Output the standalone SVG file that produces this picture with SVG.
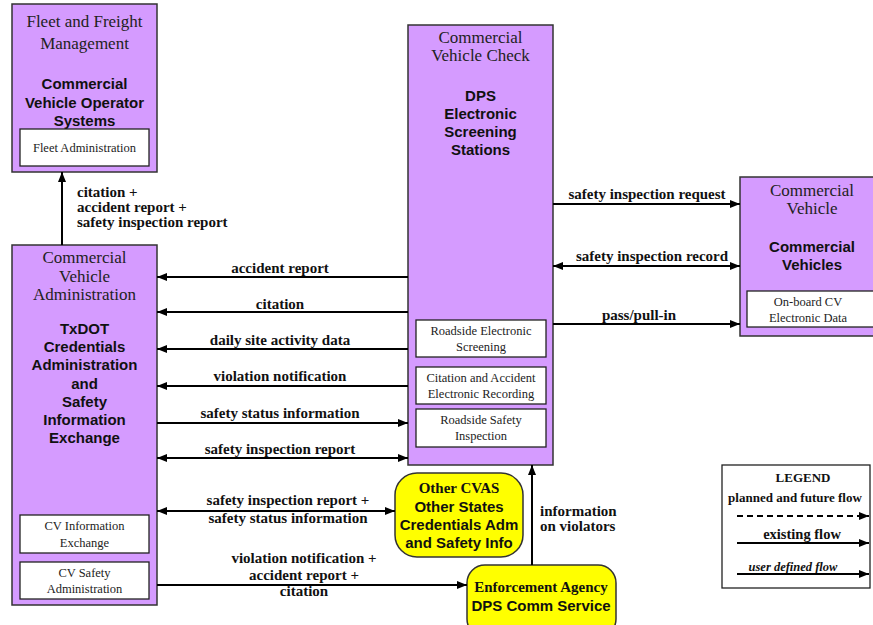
<svg xmlns="http://www.w3.org/2000/svg" width="873" height="625" viewBox="0 0 873 625">
<style>
.box{fill:#d59bff;stroke:#333;stroke-width:1.5}
.sub{fill:#fff;stroke:#222;stroke-width:1.3}
.yel{fill:#ffff00;stroke:#333;stroke-width:1.5}
.ttl{font-family:"Liberation Serif",serif;font-size:17px;fill:#222;text-anchor:middle}
.nm{font-family:"Liberation Sans",Arial,sans-serif;font-size:15px;font-weight:bold;fill:#111;text-anchor:middle}
.st{font-family:"Liberation Serif",serif;font-size:12.5px;fill:#222;text-anchor:middle}
.lb{font-family:"Liberation Serif",serif;font-size:15px;font-weight:bold;fill:#111;text-anchor:middle}
.lbl{font-family:"Liberation Serif",serif;font-size:15px;font-weight:bold;fill:#111}
.fl{fill:none;stroke:#000;stroke-width:2}
.lg{font-family:"Liberation Serif",serif;font-size:13px;font-weight:bold;fill:#111;text-anchor:middle}
</style>
<defs>
<marker id="ah" viewBox="0 0 10 8" refX="10" refY="4" markerWidth="10" markerHeight="8" markerUnits="userSpaceOnUse" orient="auto-start-reverse">
<path d="M0,0 L10,4 L0,8 z" fill="#000"/>
</marker>
</defs>
<rect width="873" height="625" fill="#fff"/>

<g id="fleet">
<rect class="box" x="12" y="4" width="145" height="168"/>
<text class="ttl" x="84.5" y="27">Fleet and Freight</text>
<text class="ttl" x="84.5" y="49">Management</text>
<text class="nm" x="84.5" y="89">Commercial</text>
<text class="nm" x="84.5" y="108">Vehicle Operator</text>
<text class="nm" x="84.5" y="126">Systems</text>
<rect class="sub" x="20" y="129" width="129" height="37"/>
<text class="st" x="84.5" y="152">Fleet Administration</text>
</g>

<g id="cva">
<rect class="box" x="12" y="245" width="145" height="360"/>
<text class="ttl" x="84.5" y="263">Commercial</text>
<text class="ttl" x="84.5" y="282">Vehicle</text>
<text class="ttl" x="84.5" y="300">Administration</text>
<text class="nm" x="84.5" y="334">TxDOT</text>
<text class="nm" x="84.5" y="352">Credentials</text>
<text class="nm" x="84.5" y="370">Administration</text>
<text class="nm" x="84.5" y="389">and</text>
<text class="nm" x="84.5" y="407">Safety</text>
<text class="nm" x="84.5" y="425">Information</text>
<text class="nm" x="84.5" y="443">Exchange</text>
<rect class="sub" x="20" y="515" width="129" height="38"/>
<text class="st" x="84.5" y="530">CV Information</text>
<text class="st" x="84.5" y="547">Exchange</text>
<rect class="sub" x="20" y="562" width="129" height="37"/>
<text class="st" x="84.5" y="577">CV Safety</text>
<text class="st" x="84.5" y="593">Administration</text>
</g>

<g id="cvc">
<rect class="box" x="408" y="25" width="145" height="440"/>
<text class="ttl" x="480.5" y="43">Commercial</text>
<text class="ttl" x="480.5" y="61">Vehicle Check</text>
<text class="nm" x="480.5" y="101">DPS</text>
<text class="nm" x="480.5" y="119">Electronic</text>
<text class="nm" x="480.5" y="137">Screening</text>
<text class="nm" x="480.5" y="155">Stations</text>
<rect class="sub" x="416" y="320" width="130" height="37"/>
<text class="st" x="481" y="335">Roadside Electronic</text>
<text class="st" x="481" y="351">Screening</text>
<rect class="sub" x="416" y="367" width="130" height="37"/>
<text class="st" x="481" y="382">Citation and Accident</text>
<text class="st" x="481" y="398">Electronic Recording</text>
<rect class="sub" x="416" y="409" width="130" height="38"/>
<text class="st" x="481" y="424">Roadside Safety</text>
<text class="st" x="481" y="440">Inspection</text>
</g>

<g id="cv">
<rect class="box" x="740" y="177" width="145" height="159"/>
<text class="ttl" x="812" y="196">Commercial</text>
<text class="ttl" x="812" y="214">Vehicle</text>
<text class="nm" x="812" y="252">Commercial</text>
<text class="nm" x="812" y="270">Vehicles</text>
<rect class="sub" x="747" y="291" width="131" height="36"/>
<text class="st" x="808" y="306">On-board CV</text>
<text class="st" x="808" y="322">Electronic Data</text>
</g>

<g id="othercvas">
<rect class="yel" x="395" y="473" width="128" height="84" rx="22" ry="22"/>
<text class="lb" x="459" y="493">Other CVAS</text>
<text class="nm" x="459" y="512">Other States</text>
<text class="nm" x="459" y="530">Credentials Adm</text>
<text class="nm" x="459" y="548">and Safety Info</text>
</g>

<g id="enforcement">
<rect class="yel" x="467" y="565" width="149" height="72" rx="18" ry="18"/>
<text class="lb" x="541" y="592">Enforcement Agency</text>
<text class="nm" x="541" y="611">DPS Comm Service</text>
</g>

<g id="connectors">
<line class="fl" x1="62" y1="245" x2="62" y2="172" marker-end="url(#ah)"/>
<line class="fl" x1="408" y1="277" x2="157" y2="277" marker-end="url(#ah)"/>
<line class="fl" x1="408" y1="312" x2="157" y2="312" marker-end="url(#ah)"/>
<line class="fl" x1="408" y1="349" x2="157" y2="349" marker-end="url(#ah)"/>
<line class="fl" x1="408" y1="386" x2="157" y2="386" marker-end="url(#ah)"/>
<line class="fl" x1="157" y1="423" x2="408" y2="423" marker-end="url(#ah)"/>
<line class="fl" x1="157" y1="458" x2="408" y2="458" marker-start="url(#ah)" marker-end="url(#ah)"/>
<line class="fl" x1="157" y1="511" x2="395" y2="511" marker-start="url(#ah)" marker-end="url(#ah)"/>
<line class="fl" x1="157" y1="585" x2="467" y2="585" marker-end="url(#ah)"/>
<line class="fl" x1="532" y1="565" x2="532" y2="465" marker-end="url(#ah)"/>
<line class="fl" x1="553" y1="204" x2="740" y2="204" marker-end="url(#ah)"/>
<line class="fl" x1="553" y1="266" x2="740" y2="266" marker-start="url(#ah)" marker-end="url(#ah)"/>
<line class="fl" x1="553" y1="324" x2="740" y2="324" marker-end="url(#ah)"/>
</g>

<g id="labels">
<text class="lbl" x="77" y="197">citation +</text>
<text class="lbl" x="77" y="212">accident report +</text>
<text class="lbl" x="77" y="227">safety inspection report</text>
<text class="lb" x="280" y="273">accident report</text>
<text class="lb" x="280" y="309">citation</text>
<text class="lb" x="280" y="345">daily site activity data</text>
<text class="lb" x="280" y="381">violation notification</text>
<text class="lb" x="280" y="418">safety status information</text>
<text class="lb" x="280" y="454">safety inspection report</text>
<text class="lb" x="288" y="505">safety inspection report +</text>
<text class="lb" x="288" y="523">safety status information</text>
<text class="lb" x="304" y="563">violation notification +</text>
<text class="lb" x="304" y="580">accident report +</text>
<text class="lb" x="304" y="596">citation</text>
<text class="lb" x="647" y="199">safety inspection request</text>
<text class="lb" x="652" y="261">safety inspection record</text>
<text class="lb" x="639" y="320">pass/pull-in</text>
<text class="lbl" x="540" y="516">information</text>
<text class="lbl" x="540" y="531">on violators</text>
</g>

<g id="legend">
<rect x="722" y="465" width="148" height="123" fill="#fff" stroke="#222" stroke-width="1.3"/>
<text class="lg" x="803" y="482">LEGEND</text>
<text class="lg" x="795" y="502">planned and future flow</text>
<line class="fl" x1="737" y1="516" x2="869" y2="516" stroke-dasharray="6,4" marker-end="url(#ah)"/>
<text class="lg" x="802" y="539" style="font-size:14.5px">existing flow</text>
<line class="fl" x1="737" y1="543" x2="869" y2="543" marker-end="url(#ah)"/>
<text class="lg" x="793" y="571" style="font-style:italic;font-size:12.5px">user defined flow</text>
<line class="fl" x1="737" y1="574" x2="869" y2="574" marker-end="url(#ah)"/>
</g>
</svg>
